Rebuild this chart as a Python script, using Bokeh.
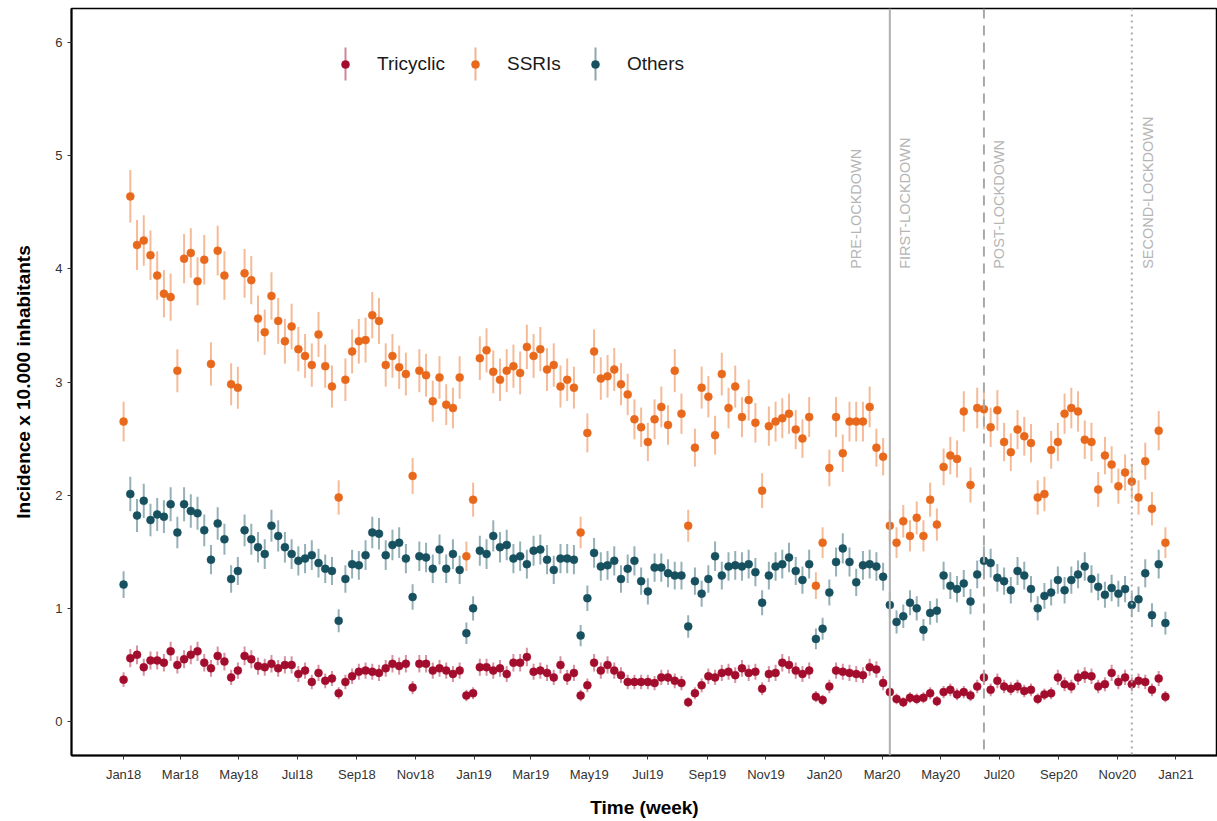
import numpy as np
import pandas as pd
from math import pi
from bokeh.plotting import figure
from bokeh.models import (ColumnDataSource, Range1d, Span, Label, Legend, LegendItem,
                          BoxAnnotation, MonthsTicker, DatetimeTickFormatter)
from bokeh.embed import file_html
from bokeh.resources import INLINE

# ---------------- data ----------------
first_week = "2018-01-01"
n_weeks = 156

tricyclic = [
    0.37, 0.56, 0.59, 0.48, 0.54, 0.54, 0.52, 0.62, 0.50, 0.55, 0.59, 0.62, 0.52, 0.47, 0.58, 0.53,
    0.39, 0.45, 0.58, 0.55, 0.49, 0.48, 0.51, 0.47, 0.50, 0.50, 0.42, 0.45, 0.35, 0.43, 0.36, 0.38,
    0.25, 0.35, 0.40, 0.44, 0.45, 0.44, 0.43, 0.47, 0.51, 0.49, 0.51, 0.30, 0.51, 0.51, 0.45, 0.47,
    0.45, 0.42, 0.45, 0.23, 0.25, 0.48, 0.48, 0.45, 0.47, 0.42, 0.52, 0.52, 0.57, 0.44, 0.45, 0.43,
    0.39, 0.50, 0.39, 0.43, 0.23, 0.32, 0.52, 0.45, 0.50, 0.45, 0.41, 0.35, 0.35, 0.35, 0.35, 0.34,
    0.39, 0.39, 0.36, 0.34, 0.17, 0.25, 0.32, 0.40, 0.39, 0.43, 0.44, 0.41, 0.47, 0.43, 0.44, 0.29,
    0.42, 0.43, 0.52, 0.50, 0.45, 0.42, 0.45, 0.22, 0.19, 0.31, 0.45, 0.44, 0.43, 0.42, 0.41, 0.48,
    0.46, 0.34, 0.26, 0.20, 0.17, 0.21, 0.20, 0.21, 0.25, 0.18, 0.26, 0.28, 0.24, 0.26, 0.23, 0.31,
    0.39, 0.28, 0.36, 0.31, 0.29, 0.31, 0.27, 0.28, 0.20, 0.24, 0.25, 0.39, 0.33, 0.31, 0.39, 0.41,
    0.40, 0.31, 0.33, 0.43, 0.35, 0.39, 0.33, 0.36, 0.35, 0.28, 0.38, 0.22,
]

ssris = [
    2.65, 4.64, 4.21, 4.25, 4.12, 3.94, 3.78, 3.75, 3.10, 4.09, 4.14, 3.89, 4.08, 3.16, 4.16, 3.94,
    2.98, 2.95, 3.96, 3.90, 3.56, 3.44, 3.76, 3.54, 3.36, 3.49, 3.29, 3.23, 3.15, 3.42, 3.14, 2.96,
    1.98, 3.02, 3.27, 3.36, 3.37, 3.59, 3.54, 3.15, 3.23, 3.13, 3.07, 2.17, 3.10, 3.06, 2.83, 3.04,
    2.80, 2.77, 3.04, 1.46, 1.96, 3.21, 3.28, 3.09, 3.02, 3.10, 3.14, 3.08, 3.31, 3.23, 3.29, 3.11,
    3.15, 2.96, 3.02, 2.95, 1.67, 2.55, 3.27, 3.03, 3.05, 3.11, 2.98, 2.89, 2.67, 2.60, 2.47, 2.67,
    2.78, 2.62, 3.10, 2.72, 1.73, 2.42, 2.95, 2.87, 2.53, 3.07, 2.77, 2.96, 2.69, 2.84, 2.64, 2.04,
    2.61, 2.65, 2.68, 2.72, 2.58, 2.50, 2.69, 1.20, 1.58, 2.24, 2.69, 2.37, 2.65, 2.65, 2.65, 2.78,
    2.42, 2.34, 1.73, 1.58, 1.77, 1.64, 1.80, 1.64, 1.96, 1.74, 2.25, 2.35, 2.32, 2.74, 2.09, 2.77,
    2.76, 2.60, 2.75, 2.47, 2.38, 2.58, 2.52, 2.46, 1.98, 2.01, 2.40, 2.47, 2.72, 2.77, 2.74, 2.49,
    2.47, 2.05, 2.35, 2.27, 2.08, 2.20, 2.12, 1.98, 2.30, 1.88, 2.57, 1.58,
]

others = [
    1.21, 2.01, 1.82, 1.95, 1.78, 1.83, 1.81, 1.92, 1.67, 1.92, 1.86, 1.84, 1.69, 1.43, 1.75, 1.61,
    1.26, 1.33, 1.69, 1.61, 1.54, 1.48, 1.73, 1.64, 1.54, 1.48, 1.42, 1.44, 1.47, 1.40, 1.35, 1.33,
    0.89, 1.26, 1.39, 1.38, 1.47, 1.67, 1.66, 1.47, 1.56, 1.58, 1.44, 1.10, 1.46, 1.45, 1.35, 1.52,
    1.35, 1.48, 1.34, 0.78, 1.00, 1.51, 1.48, 1.64, 1.54, 1.56, 1.44, 1.46, 1.39, 1.51, 1.52, 1.43,
    1.34, 1.44, 1.44, 1.43, 0.76, 1.09, 1.49, 1.37, 1.38, 1.42, 1.26, 1.35, 1.42, 1.24, 1.15, 1.36,
    1.36, 1.31, 1.29, 1.29, 0.84, 1.24, 1.13, 1.26, 1.46, 1.29, 1.37, 1.38, 1.37, 1.39, 1.32, 1.05,
    1.29, 1.37, 1.39, 1.45, 1.33, 1.25, 1.39, 0.73, 0.82, 1.14, 1.41, 1.53, 1.41, 1.23, 1.38, 1.39,
    1.37, 1.28, 1.03, 0.88, 0.93, 1.05, 1.00, 0.81, 0.96, 0.98, 1.29, 1.20, 1.17, 1.22, 1.06, 1.30,
    1.42, 1.40, 1.27, 1.24, 1.16, 1.33, 1.29, 1.17, 1.00, 1.11, 1.14, 1.25, 1.16, 1.25, 1.30, 1.37,
    1.26, 1.19, 1.12, 1.18, 1.13, 1.17, 1.03, 1.08, 1.31, 0.94, 1.39, 0.87,
]

series_names = ["Tricyclic", "SSRIs", "Others"]
series_values = [tricyclic, ssris, others]
series_colors = ["#a30d2d", "#e8681c", "#17505f"]

# population used for Poisson 95% confidence intervals of incidence x 10.000
population = 3_300_000

y_ticks = [0, 1, 2, 3, 4, 5, 6]
tick_months = [0, 2, 4, 6, 8, 10]          # Jan, Mar, May, Jul, Sep, Nov

period_dates = ["2020-03-09", "2020-06-15", "2020-11-16"]
period_dashes = ["solid", "10 7", "2 4"]
period_line_colors = ["#b0b0b0", "#a8a8a8", "#aaaaaa"]
period_labels = ["PRE-LOCKDOWN", "FIRST-LOCKDOWN", "POST-LOCKDOWN", "SECOND-LOCKDOWN"]

# ---------------- figure ----------------
dates = pd.date_range(first_week, periods=n_weeks, freq="7D")
pad = pd.Timedelta(days=54.25)


def ms(d):
    return pd.Timestamp(d).value / 1e6


p = figure(width=1217, height=820, x_axis_type="datetime",
           x_range=Range1d(dates[0] - pad, dates[-1] + pad),
           y_range=Range1d(-0.3, 6.3),
           output_backend="svg", toolbar_location=None,
           min_border_left=71, min_border_right=0, min_border_top=8, min_border_bottom=65,
           background_fill_color="white", border_fill_color="white")

p.xgrid.visible = False
p.ygrid.visible = False
p.outline_line_color = "black"
p.outline_line_width = 1.5

FONT = "Liberation Sans"

point_renderers = []
for name, vals, col in zip(series_names, series_values, series_colors):
    v = np.array(vals)
    half = 1.96 * np.sqrt(v * 1e4 / population)
    src = ColumnDataSource(dict(x=dates, y=v, lo=v - half, hi=v + half))
    p.segment(x0="x", y0="lo", x1="x", y1="hi", source=src,
              line_color=col, line_alpha=0.45, line_width=2)
    r = p.scatter(x="x", y="y", source=src, size=8, marker="circle",
                  fill_color=col, line_color=col, line_width=0.5)
    point_renderers.append(r)

# period lines
for d, dash, lc in zip(period_dates, period_dashes, period_line_colors):
    p.add_layout(Span(location=ms(d), dimension="height", line_color=lc,
                      line_width=2, line_dash=dash))

# period labels (rotated)
label_x = [period_dates[0], period_dates[0], period_dates[1], period_dates[2]]
label_off = [-33.5, 15, 15.5, 16]
for txt, d, off in zip(period_labels, label_x, label_off):
    p.add_layout(Label(x=ms(d), y=4.0, text=txt, angle=pi / 2, angle_units="rad",
                       text_align="left", text_baseline="middle", x_offset=off,
                       text_font=FONT, text_font_size="14.5px", text_color="#b5b5b5"))

# legend: vertical error-bar stroke behind each legend point
legend_cx = [274, 404, 524]
for cx, col in zip(legend_cx, series_colors):
    p.add_layout(BoxAnnotation(left=cx - 1, right=cx + 1, bottom=675, top=708,
                               left_units="screen", right_units="screen",
                               top_units="screen", bottom_units="screen",
                               fill_color=col, fill_alpha=0.5, line_alpha=0))
for cx, name, r in zip(legend_cx, series_names, point_renderers):
    leg = Legend(items=[LegendItem(label=name, renderers=[r])],
                 location=(cx - 10, 674), orientation="horizontal",
                 glyph_width=20, glyph_height=34, label_standoff=22,
                 padding=0, margin=0, spacing=0,
                 border_line_alpha=0, background_fill_alpha=0,
                 label_text_font=FONT, label_text_font_size="19px",
                 label_text_color="#1a1a1a")
    p.add_layout(leg)

# axes
p.xaxis.ticker = MonthsTicker(months=tick_months)
p.xaxis.formatter = DatetimeTickFormatter(months="%b%y", days="%b%y", years="%b%y")
p.yaxis.ticker = y_ticks
p.xaxis.axis_label = "Time (week)"
p.yaxis.axis_label = "Incidence x 10.000 inhabitants"
for ax in (p.xaxis, p.yaxis):
    ax.axis_line_color = "black"
    ax.axis_line_width = 2
    ax.major_tick_line_color = "#333333"
    ax.major_tick_out = 4
    ax.major_tick_in = 0
    ax.minor_tick_line_color = None
    ax.major_label_text_font = FONT
    ax.major_label_text_font_size = "13px"
    ax.major_label_text_color = "#333333"
    ax.axis_label_text_font = FONT
    ax.axis_label_text_font_size = "19px"
    ax.axis_label_text_font_style = "bold"
    ax.axis_label_text_color = "black"
p.xaxis.major_label_standoff = 7
p.xaxis.axis_label_standoff = 12
p.yaxis.major_label_standoff = 5
p.yaxis.axis_label_standoff = 18

open("out.html", "w").write(file_html(p, INLINE))
